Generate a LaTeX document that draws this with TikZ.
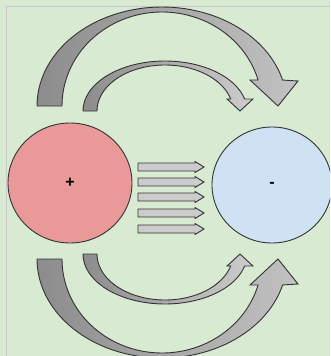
\documentclass[tikz,border=0pt]{standalone}
\usepackage{fontspec}
\setmainfont{Liberation Sans}
\usetikzlibrary{shapes.geometric}
\definecolor{bg}{HTML}{D9EAD3}
\definecolor{bordercol}{HTML}{C8C8C8}
\definecolor{outl}{HTML}{333333}
\definecolor{dk}{HTML}{8C8C8C}
\definecolor{lt}{HTML}{C2C2C2}
\definecolor{ltsmall}{HTML}{CDCDCD}
\definecolor{redfill}{HTML}{EA9999}
\definecolor{bluefill}{HTML}{CFE2F3}
\definecolor{barfill}{HTML}{CCCCCC}
\tikzset{
  arrowline/.style={draw=outl, line width=0.9pt, line join=miter},
  ball/.style={ellipse, draw=outl, line width=0.9pt, inner sep=0pt, font=\bfseries\fontsize{16}{16}\selectfont},
  barrow/.style={draw=outl, fill=barfill, line width=0.9pt},
  noflip/.style={},
  flipdown/.style={shift={(0,365)}, yscale=-1}
}
\begin{document}
\begin{tikzpicture}[x=1pt,y=-1pt]
\useasboundingbox (0,0) rectangle (330,356);
\clip (0,0) rectangle (330,356);
\fill[bg] (0,0) rectangle (330,356);
\draw[bordercol, line width=1.5pt] (6.5,356) -- (6.5,6.5) -- (330,6.5);

% top and bottom curved arrows
\foreach \tr in {noflip, flipdown} {
  \begin{scope}[\tr]
    \path[arrowline, left color=dk, right color=lt]
      plot[domain=180:15.2, samples=60] ({162+125*cos(\x)},{106-99*sin(\x)})
      -- (298,81) -- (278,106) -- (250,80)
      -- plot[domain=16.06:180, samples=60] ({162+100*cos(\x)},{106-94*sin(\x)}) -- cycle;
    \path[arrowline, left color=dk, right color=ltsmall]
      plot[domain=180:13.9, samples=50] ({165+82*cos(\x)},{111-50*sin(\x)})
      -- (253,99) -- (240,111) -- (227,99)
      -- plot[domain=15.1:180, samples=50] ({165+68*cos(\x)},{111-46*sin(\x)}) -- cycle;
  \end{scope}
}

% horizontal arrows
\foreach \c in {167,182,197,213,229} {
  \draw[barrow] (138,\c-4) -- (195,\c-4) -- (195,\c-5.5) -- (204,\c)
    -- (195,\c+5.5) -- (195,\c+4) -- (138,\c+4) -- cycle;
}

\node[ball, fill=redfill, minimum width=124pt, minimum height=120pt] (plus) at (70,183) {+};
\node[ball, fill=bluefill, minimum width=120pt, minimum height=116pt] (minus) at (272,185) {-};
\end{tikzpicture}
\end{document}
